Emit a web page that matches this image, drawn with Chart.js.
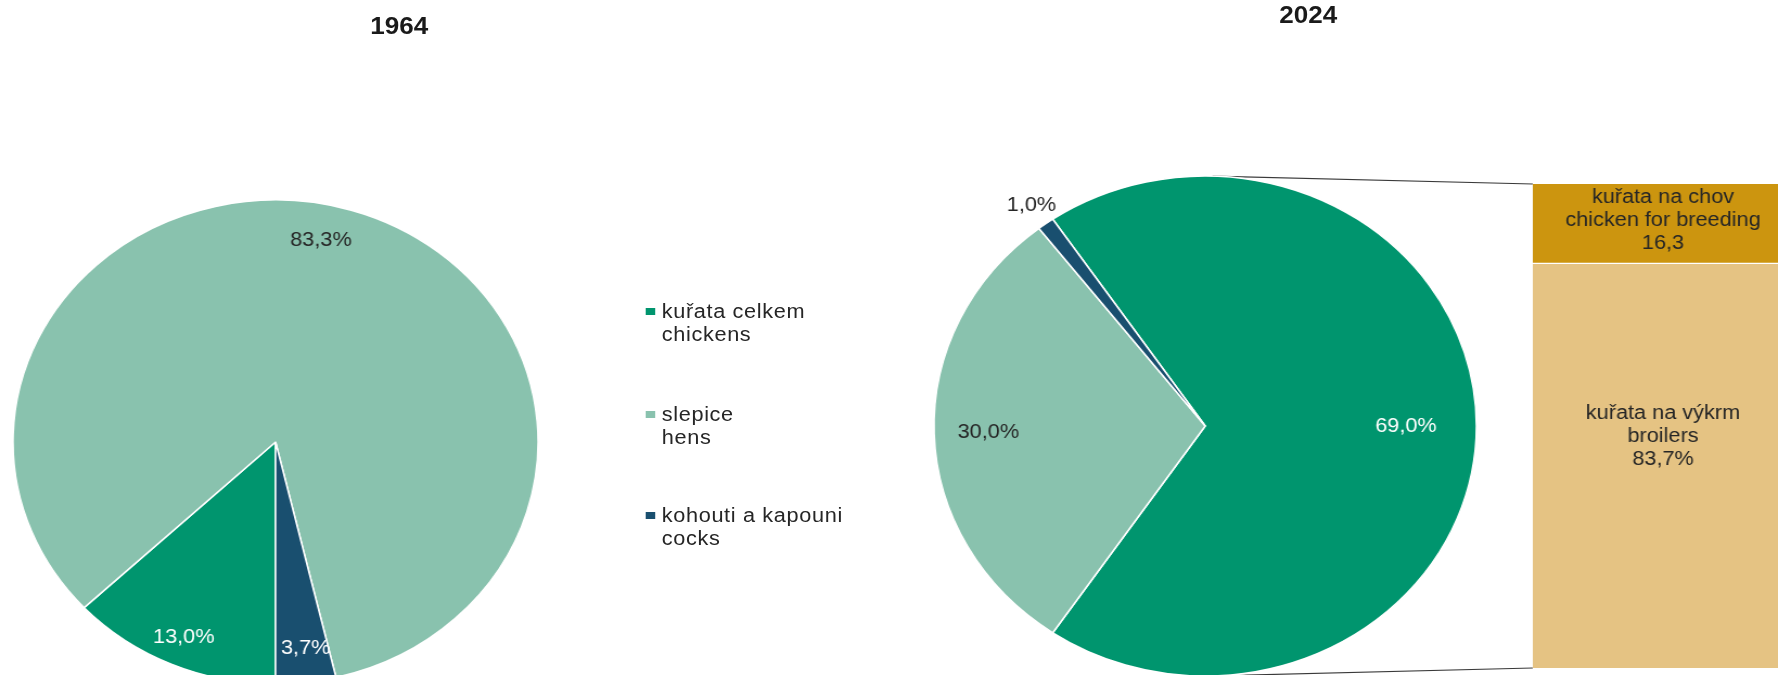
<!DOCTYPE html>
<html>
<head>
<meta charset="utf-8">
<script src="https://cdn.jsdelivr.net/npm/chart.js@4.4.1/dist/chart.umd.min.js"></script>
<style>
  html, body { margin: 0; padding: 0; background: #fff; overflow: hidden; }
  #stage {
    position: relative; width: 1639px; height: 675px; overflow: hidden;
    transform: scaleX(1.0848); transform-origin: 0 0;
    font-family: "Liberation Sans", Arial, sans-serif; color: #262626;
  }
  #stage canvas { position: absolute; }
  .title { position: absolute; font-size: 24px; font-weight: bold; color: #1a1a1a; transform: translate(-50%, -50%); white-space: nowrap; }
  .legend-item { position: absolute; left: 595px; font-size: 20px; line-height: 23px; letter-spacing: 0.6px; white-space: nowrap; }
  .legend-item .box { position: absolute; left: 0; top: 8px; width: 9px; height: 7px; }
  .legend-item .txt { position: absolute; left: 15px; top: 0; }
</style>
</head>
<body>
<div id="stage">
  <div class="title" style="left:368px;top:26px">1964</div>
  <div class="title" style="left:1206px;top:15px">2024</div>
  <canvas id="lines" width="1639" height="675" style="left:0;top:0"></canvas>
  <canvas id="pie1964" width="500" height="500" style="left:4px;top:192px"></canvas>
  <canvas id="pie2024" width="520" height="520" style="left:851px;top:166px"></canvas>
  <canvas id="split" width="240" height="484" style="left:1413px;top:184px"></canvas>
</div>
<script>
// categories (cz / en)
const categoriesCz = ['kuřata celkem', 'slepice', 'kohouti a kapouni'];
const categoriesEn = ['chickens', 'hens', 'cocks'];
const colors = ['#00956e', '#89c2ae', '#194f6f'];

// shares in %
const share1964 = [13.0, 83.3, 3.7];
const share2024 = [69.0, 30.0, 1.0];

// split of chickens in 2024
const splitCz = ['kuřata na chov', 'kuřata na výkrm'];
const splitEn = ['chicken for breeding', 'broilers'];
const splitValues = [16.3, 83.7];
const splitSuffix = ['', '%'];
const splitColors = ['#cc950f', '#e5c383'];

const FONT = '"Liberation Sans", Arial, sans-serif';
Chart.defaults.font.family = FONT;

const fmt = v => v.toFixed(1).replace('.', ',');

// legend
const stage = document.getElementById('stage');
const legendTops = [300, 403, 504];
categoriesCz.forEach((c, i) => {
  const el = document.createElement('div');
  el.className = 'legend-item';
  el.style.top = legendTops[i] + 'px';
  el.innerHTML = '<span class="box" style="background:' + colors[i] + '"></span>' +
    '<span class="txt">' + c + '<br>' + categoriesEn[i] + '</span>';
  stage.appendChild(el);
});

const pieLabels = {
  id: 'pieLabels',
  afterDatasetsDraw(chart, args, opts) {
    const { ctx } = chart;
    const meta = chart.getDatasetMeta(0);
    ctx.save();
    ctx.font = '20px ' + FONT;
    ctx.textAlign = 'center';
    ctx.textBaseline = 'middle';
    meta.data.forEach((arc, i) => {
      const p = arc.getProps(['x', 'y', 'startAngle', 'endAngle', 'outerRadius'], true);
      const mid = (p.startAngle + p.endAngle) / 2 + opts.shift[i] * Math.PI / 180;
      const r = p.outerRadius * opts.radii[i];
      ctx.fillStyle = opts.colors[i];
      ctx.fillText(fmt(chart.data.datasets[0].data[i]) + '%', p.x + Math.cos(mid) * r, p.y + Math.sin(mid) * r);
    });
    ctx.restore();
  }
};

function pieConfig(values, radius, rotation, labelOpts) {
  return {
    type: 'pie',
    data: {
      labels: categoriesCz,
      datasets: [{
        data: values,
        backgroundColor: colors,
        borderColor: '#ffffff',
        borderWidth: 1.5,
        hoverOffset: 0
      }]
    },
    options: {
      responsive: false,
      animation: false,
      events: [],
      radius: radius,
      rotation: rotation,
      layout: { padding: 0 },
      plugins: {
        legend: { display: false },
        tooltip: { enabled: false },
        pieLabels: labelOpts
      }
    },
    plugins: [pieLabels]
  };
}

const chart1964 = new Chart(document.getElementById('pie1964'), pieConfig(share1964, 242, 180, {
  radii: [0.88, 0.85, 0.86],
  shift: [0, -5, -1],
  colors: ['#ffffff', '#262626', '#ffffff']
}));

// the split slice is centred on the right side, like an Excel bar of pie
const chart2024 = new Chart(document.getElementById('pie2024'), pieConfig(share2024, 250, 90 - share2024[0] * 3.6 / 2, {
  radii: [0.74, 0.80, 1.09],
  shift: [0, 0, 0],
  colors: ['#ffffff', '#262626', '#262626']
}));

const barLabels = {
  id: 'barLabels',
  afterDatasetsDraw(chart, args, opts) {
    const { ctx } = chart;
    ctx.save();
    ctx.font = '20px ' + FONT;
    ctx.textAlign = 'center';
    ctx.textBaseline = 'middle';
    ctx.fillStyle = '#262626';
    chart.data.datasets.forEach((ds, i) => {
      const bar = chart.getDatasetMeta(i).data[0];
      const p = bar.getProps(['x', 'y', 'base'], true);
      const k = ds.idx;
      const lines = [splitCz[k], splitEn[k], fmt(splitValues[k]) + splitSuffix[k]];
      const cy = (p.y + p.base) / 2 + opts.shift[k];
      lines.forEach((t, j) => ctx.fillText(t, p.x, cy + (j - 1) * 23));
    });
    ctx.restore();
  }
};

// bottom to top: broilers, then breeding
const stackOrder = [1, 0];
const chartSplit = new Chart(document.getElementById('split'), {
  type: 'bar',
  data: {
    labels: ['2024'],
    datasets: stackOrder.map(k => ({
      idx: k,
      label: splitCz[k],
      data: [splitValues[k]],
      backgroundColor: splitColors[k],
      borderColor: '#ffffff',
      borderWidth: k === 1 ? { top: 1.5, left: 0, right: 0, bottom: 0 } : 0,
      borderSkipped: false,
      categoryPercentage: 1,
      barPercentage: 1
    }))
  },
  options: {
    responsive: false,
    animation: false,
    events: [],
    layout: { padding: 0 },
    scales: {
      x: { display: false, stacked: true },
      y: { display: false, stacked: true, min: 0, max: 100 }
    },
    plugins: {
      legend: { display: false },
      tooltip: { enabled: false },
      barLabels: { shift: [-3, -29] }
    }
  },
  plugins: [barLabels]
});

// series lines from the pie to the bar (tangents)
function tangentPoint(cx, cy, r, px, py, side) {
  const dx = px - cx, dy = py - cy;
  const d = Math.hypot(dx, dy);
  const t = Math.atan2(dy, dx) + side * Math.acos(r / d);
  return [cx + r * Math.cos(t), cy + r * Math.sin(t)];
}

const pieCanvas = document.getElementById('pie2024');
const barCanvas = document.getElementById('split');
const arc = chart2024.getDatasetMeta(0).data[0];
const cx = arc.x + pieCanvas.offsetLeft, cy = arc.y + pieCanvas.offsetTop, r = arc.outerRadius;
const topBar = chartSplit.getDatasetMeta(1).data[0];
const botBar = chartSplit.getDatasetMeta(0).data[0];
const topPt = [topBar.x - topBar.width / 2 + barCanvas.offsetLeft, topBar.y + barCanvas.offsetTop];
const botPt = [botBar.x - botBar.width / 2 + barCanvas.offsetLeft, botBar.base + barCanvas.offsetTop];

const lctx = document.getElementById('lines').getContext('2d');
lctx.strokeStyle = '#3a3a3a';
lctx.lineWidth = 1.2;
[[topPt, -1], [botPt, 1]].forEach(([pt, side]) => {
  const tp = tangentPoint(cx, cy, r, pt[0], pt[1], side);
  lctx.beginPath();
  lctx.moveTo(tp[0], tp[1]);
  lctx.lineTo(pt[0], pt[1]);
  lctx.stroke();
});
</script>
</body>
</html>
